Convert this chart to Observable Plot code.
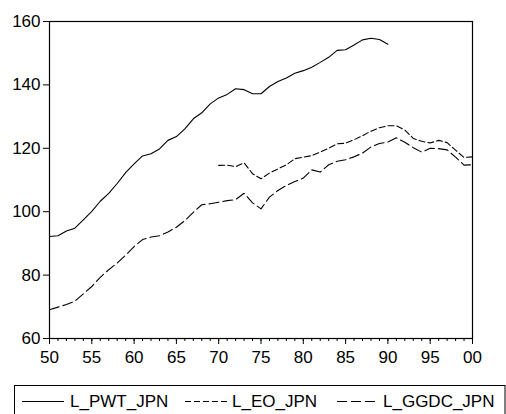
<!DOCTYPE html>
<html>
<head>
<meta charset="utf-8">
<script src="https://cdn.jsdelivr.net/npm/d3@7"></script>
<script src="https://cdn.jsdelivr.net/npm/@observablehq/plot@0.6"></script>
<style>
  html, body { margin: 0; padding: 0; background: #fff; }
  #wrap { position: relative; width: 506px; height: 414px; overflow: hidden; font-family: Arial, "Liberation Sans", sans-serif; }
  #chart svg { display: block; }
  #legend { position: absolute; left: 0; top: 385px; }
</style>
</head>
<body>
<div id="wrap">
  <div id="chart"></div>
  <svg id="legend" width="506" height="36"></svg>
</div>
<script>
// Japan, log output indices by source
const pwtYears = d3.range(1950, 1991);
const pwtValues = [
  92.2, 92.4, 93.9, 94.8, 97.4, 100.1, 103.3, 105.8, 108.9, 112.3,
  115.1, 117.6, 118.3, 119.8, 122.5, 123.7, 126.1, 129.3, 131.2, 134.0,
  135.9, 137.0, 138.8, 138.5, 137.2, 137.2, 139.5, 141.1, 142.2, 143.7,
  144.5, 145.6, 147.1, 148.7, 150.9, 151.1, 152.6, 154.2, 154.7, 154.3,
  152.8
];

const eoYears = d3.range(1970, 2001);
const eoValues = [
  114.6, 114.7, 114.2, 115.4, 112.0, 110.4, 112.2, 113.5, 114.8, 116.7,
  117.2, 117.7, 118.8, 120.0, 121.4, 121.6, 122.7, 124.0, 125.4, 126.5,
  127.1, 127.1, 125.8, 123.1, 122.2, 121.7, 122.5, 121.8, 119.4, 117.1,
  117.3
];

const ggdcYears = d3.range(1950, 2001);
const ggdcValues = [
  69.1, 69.9, 70.7, 71.8, 74.1, 76.4, 79.3, 81.7, 83.8, 86.3,
  89.0, 91.2, 92.0, 92.4, 93.6, 95.1, 97.2, 99.8, 102.2, 102.5,
  103.0, 103.5, 103.8, 105.8, 102.8, 100.9, 104.6, 106.7, 108.3, 109.5,
  110.6, 113.2, 112.5, 114.8, 115.9, 116.4, 117.3, 118.5, 120.4, 121.5,
  122.0, 123.3, 121.9, 120.2, 118.8, 120.0, 119.9, 119.5, 117.2, 114.7,
  114.8
];

const yTicks = [60, 80, 100, 120, 140, 160];
const xMajorTicks = d3.range(1950, 2001, 5);
const xMinorTicks = d3.range(1950, 2001);
const seriesNames = ["L_PWT_JPN", "L_EO_JPN", "L_GGDC_JPN"];
const seriesDash = [null, "6,3", "10,4"];

const toRows = (years, values) => years.map((year, i) => ({year, value: values[i]}));
const pwt = toRows(pwtYears, pwtValues);
const eo = toRows(eoYears, eoValues);
const ggdc = toRows(ggdcYears, ggdcValues);

const chart = Plot.plot({
  width: 506,
  height: 375,
  marginTop: 21,
  marginRight: 34,
  marginBottom: 37,
  marginLeft: 49,
  style: {fontFamily: "Arial, 'Liberation Sans', sans-serif", fontSize: "17px", color: "#000", background: "#fff"},
  x: {domain: [1950, 2000]},
  y: {domain: [60, 160]},
  marks: [
    Plot.axisY({ticks: yTicks, tickSize: 6, tickPadding: 3, label: null, fontSize: 17}),
    Plot.axisX({ticks: xMinorTicks, tickSize: 3, tickFormat: () => "", label: null}),
    Plot.axisX({ticks: xMajorTicks, tickSize: 6, tickPadding: 6, label: null, fontSize: 17,
      tickFormat: d => String(d % 100).padStart(2, "0")}),
    Plot.line(pwt, {x: "year", y: "value", stroke: "#000", strokeWidth: 1.1}),
    Plot.line(eo, {x: "year", y: "value", stroke: "#000", strokeWidth: 1.1, strokeDasharray: seriesDash[1]}),
    Plot.line(ggdc, {x: "year", y: "value", stroke: "#000", strokeWidth: 1.1, strokeDasharray: seriesDash[2]}),
    Plot.frame({stroke: "#000", strokeWidth: 1.2})
  ]
});
document.getElementById("chart").appendChild(chart);

// Boxed legend beneath the plot (its lower edge runs past the page bottom)
const legend = d3.select("#legend");
legend.append("rect")
  .attr("x", 14.5).attr("y", 0.5).attr("width", 490.5).attr("height", 33)
  .attr("fill", "none").attr("stroke", "#000").attr("stroke-width", 1);
const items = [
  {x1: 22, x2: 64, tx: 70},
  {x1: 185, x2: 227, tx: 232},
  {x1: 337, x2: 379, tx: 383}
];
items.forEach((it, i) => {
  legend.append("line")
    .attr("x1", it.x1).attr("x2", it.x2).attr("y1", 16.5).attr("y2", 16.5)
    .attr("stroke", "#000").attr("stroke-width", 1.1)
    .attr("stroke-dasharray", seriesDash[i]);
  legend.append("text")
    .attr("x", it.tx).attr("y", 16).attr("dy", "0.35em")
    .attr("font-size", 17).attr("font-family", "Arial, 'Liberation Sans', sans-serif")
    .attr("fill", "#000")
    .text(seriesNames[i]);
});
</script>
</body>
</html>
